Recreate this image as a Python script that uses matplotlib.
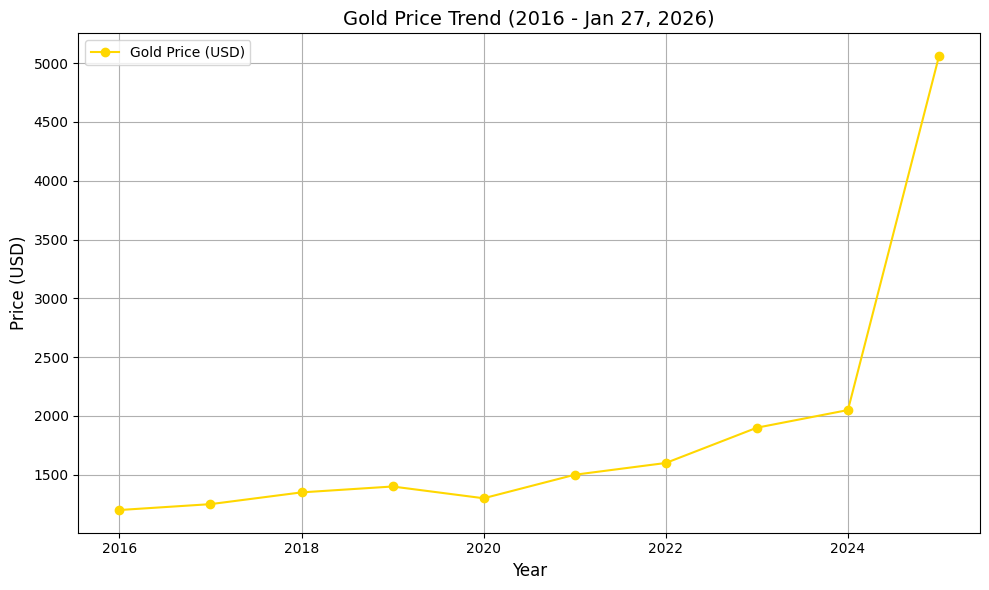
import matplotlib
matplotlib.use("Agg")
import matplotlib.pyplot as plt

years = [2016, 2017, 2018, 2019, 2020, 2021, 2022, 2023, 2024, 2025]
prices = [1200, 1250, 1350, 1400, 1300, 1500, 1600, 1900, 2050, 5060]

plt.figure(figsize=(10, 6), dpi=100)
plt.plot(years, prices, marker='o', color='gold', label='Gold Price (USD)')
plt.title('Gold Price Trend (2016 - Jan 27, 2026)', fontsize=14)
plt.xlabel('Year', fontsize=12)
plt.ylabel('Price (USD)', fontsize=12)
plt.grid(True)
plt.legend(loc='upper left')
plt.tight_layout()
plt.savefig('out.png', bbox_inches='tight')
